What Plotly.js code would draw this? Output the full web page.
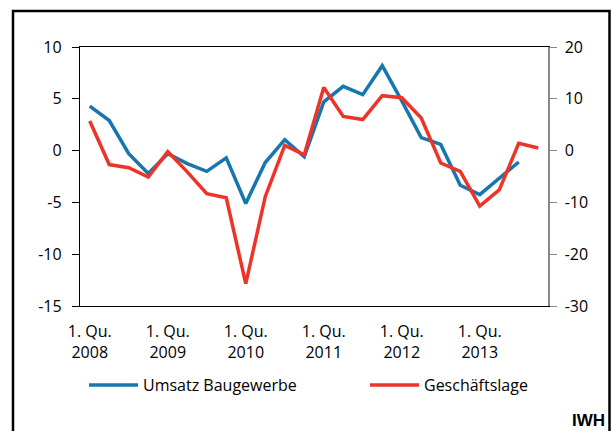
<!DOCTYPE html>
<html><head><meta charset="utf-8">
<script src="https://cdn.plot.ly/plotly-3.0.1.min.js"></script>
<style>html,body{margin:0;padding:0;background:#fff}#c{width:611px;height:431px}</style>
</head><body><div id="c"></div>
<script>
const quarters = [];
const years = [2008, 2009, 2010, 2011, 2012, 2013];
for (const y of years) for (let q = 1; q <= 4; q++) quarters.push(q + ". Qu. " + y);
const tickCats = years.map(y => "1. Qu. " + y);
const tickLabels = years.map(y => "1. Qu.<br>" + y);
const leftTicks = [-15, -10, -5, 0, 5, 10];
const rightTicks = [-30, -20, -10, 0, 10, 20];

const umsatz = [4.3, 2.9, -0.3, -2.2, -0.3, -1.25, -2.0, -0.7, -5.1, -1.15, 1.05, -0.6,
                4.7, 6.2, 5.4, 8.2, 4.8, 1.25, 0.6, -3.35, -4.25, -2.7, -1.1, null];
const geschaeft = [5.7, -2.7, -3.3, -5.1, -0.2, -4.1, -8.3, -9.1, -25.7, -8.9, 1.0, -0.8,
                   12.2, 6.6, 6.0, 10.6, 10.2, 6.3, -2.4, -4.0, -10.7, -7.6, 1.4, 0.5];

const font = {family: "Open Sans, sans-serif", size: 16, color: "#000"};

const traces = [
  {x: quarters, y: umsatz, type: "scatter", mode: "lines", name: "Umsatz Baugewerbe",
   line: {color: "#1677ae", width: 3.5}, yaxis: "y", legend: "legend"},
  {x: quarters, y: geschaeft, type: "scatter", mode: "lines", name: "Geschäftslage",
   line: {color: "#ee3428", width: 3.5}, yaxis: "y2", legend: "legend2"}
];

const legBase = {orientation: "h", xref: "container", yref: "container", y: 1 - 385 / 431,
                 xanchor: "left", yanchor: "middle", font: font, bgcolor: "rgba(0,0,0,0)",
                 itemwidth: 49};

const layout = {
  width: 611, height: 431,
  margin: {l: 80, r: 63, t: 47, b: 125, autoexpand: false},
  paper_bgcolor: "#fff", plot_bgcolor: "#fff",
  font: font,
  showlegend: true,
  legend: Object.assign({}, legBase, {x: 84 / 611}),
  legend2: Object.assign({}, legBase, {x: 365 / 611}),
  xaxis: {type: "category", categoryorder: "array", categoryarray: quarters,
          range: [-0.5, 23.5], tickmode: "array", tickvals: tickCats, ticktext: tickLabels,
          ticks: "", showgrid: false, zeroline: false, showline: true, linecolor: "#000",
          linewidth: 1.2, mirror: true, ticklabelstandoff: 11, tickfont: font},
  xaxis2: {type: "linear", range: [-0.5, 23.5], overlaying: "x", anchor: "free", position: 0.6,
           tickmode: "linear", tick0: -0.5, dtick: 1, ticks: "outside", ticklen: 6,
           tickcolor: "#444", tickwidth: 1, showticklabels: false, showgrid: false,
           zeroline: false, showline: true, linecolor: "#444", linewidth: 1.2},
  yaxis: {range: [-15, 10], tickmode: "array", tickvals: leftTicks, ticktext: leftTicks.map(String),
          ticks: "outside", ticklen: 7,
          tickcolor: "#000", showgrid: false, zeroline: false, showline: true, linecolor: "#000",
          linewidth: 1.2, tickfont: font, ticklabelstandoff: 7},
  yaxis2: {range: [-30, 20], tickmode: "array", tickvals: rightTicks, ticktext: rightTicks.map(String),
           overlaying: "y", side: "right",
           anchor: "x", ticks: "outside", ticklen: 7, tickcolor: "#888", showgrid: false,
           zeroline: false, showline: true, linecolor: "#888", linewidth: 1.5, tickfont: font,
           ticklabelstandoff: 5},
  shapes: [
    {type: "rect", xref: "paper", yref: "paper",
     x0: (13 - 80) / 468, x1: (609.5 - 80) / 468, y0: (306 - 440) / 259, y1: (306 - 11) / 259,
     line: {color: "#000", width: 2.5}, fillcolor: "rgba(0,0,0,0)", layer: "above"}
  ],
  annotations: [
    {text: "<b>IWH</b>", xref: "paper", yref: "paper", x: (606 - 80) / 468, y: (306 - 420) / 259,
     xanchor: "right", yanchor: "middle", showarrow: false, borderpad: 0,
     font: {family: "Liberation Sans, Arial, sans-serif", size: 17, color: "#000"}}
  ]
};

Plotly.newPlot("c", traces, layout, {displayModeBar: false, staticPlot: true});
</script></body></html>
